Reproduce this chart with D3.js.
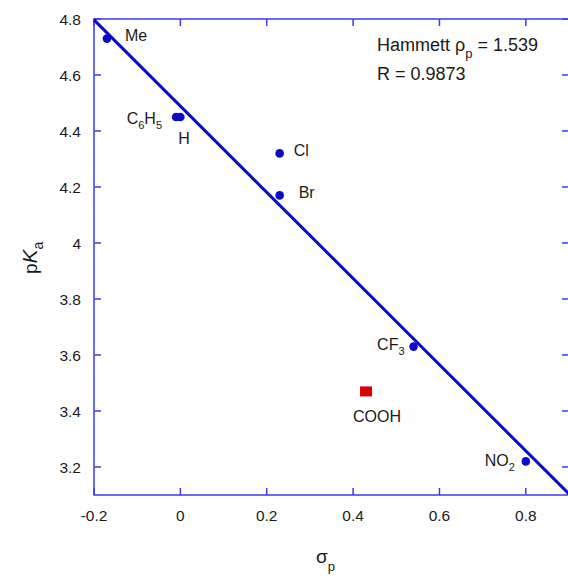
<!DOCTYPE html>
<html>
<head>
<meta charset="utf-8">
<script src="https://cdn.jsdelivr.net/npm/d3@7/dist/d3.min.js"></script>
<style>
  html, body { margin: 0; padding: 0; background: #fff; }
  svg { display: block; font-family: "Liberation Sans", Arial, sans-serif; }
</style>
</head>
<body>
<svg id="chart" width="568" height="576"></svg>
<script>
// Para-substituted benzoic acids: Hammett sigma_p vs pKa
const substituents = ["Me", "C6H5", "H", "Cl", "Br", "CF3", "NO2"];
const sigmaP       = [-0.17, -0.01, 0.00, 0.23, 0.23, 0.54, 0.80];
const pKa          = [4.73, 4.45, 4.45, 4.32, 4.17, 3.63, 3.22];

// Outlier shown separately (not in fit)
const outlierName  = ["COOH"];
const outlierSigma = [0.43];
const outlierPKa   = [3.47];

// Fit results
const rho = 1.539;
const intercept = 4.489;
const rValue = "0.9873";

const xTicks = [-0.2, 0, 0.2, 0.4, 0.6, 0.8];
const yTicks = [3.2, 3.4, 3.6, 3.8, 4, 4.2, 4.4, 4.6, 4.8];

const svg = d3.select("#chart");
const axisColor = "#3a3af0";
const markColor = "#0a0ac8";
const textColor = "#1a1a1a";

const x = d3.scaleLinear().domain([-0.2, 0.9]).range([94, 569]);
const y = d3.scaleLinear().domain([3.1, 4.8]).range([495, 19]);

// Frame
svg.append("rect")
  .attr("x", x(-0.2)).attr("y", y(4.8))
  .attr("width", x(0.9) - x(-0.2)).attr("height", y(3.1) - y(4.8))
  .attr("fill", "none").attr("stroke", axisColor).attr("stroke-width", 1.5);

// Inward ticks on all four sides
const tickLen = 7;
const tg = svg.append("g").attr("stroke", axisColor).attr("stroke-width", 1.5);
xTicks.forEach(v => {
  tg.append("line").attr("x1", x(v)).attr("x2", x(v)).attr("y1", y(3.1)).attr("y2", y(3.1) - tickLen);
  tg.append("line").attr("x1", x(v)).attr("x2", x(v)).attr("y1", y(4.8)).attr("y2", y(4.8) + tickLen);
});
yTicks.forEach(v => {
  tg.append("line").attr("x1", x(-0.2)).attr("x2", x(-0.2) + tickLen).attr("y1", y(v)).attr("y2", y(v));
  tg.append("line").attr("x1", x(0.9)).attr("x2", x(0.9) - tickLen).attr("y1", y(v)).attr("y2", y(v));
});

// Tick labels
svg.append("g").selectAll("text").data(xTicks).join("text")
  .attr("x", d => x(d)).attr("y", 520.5)
  .attr("text-anchor", "middle").attr("font-size", 15.5).attr("fill", textColor)
  .text(d => String(d));
svg.append("g").selectAll("text").data(yTicks).join("text")
  .attr("x", 81).attr("y", d => y(d)).attr("dy", "0.36em")
  .attr("text-anchor", "end").attr("font-size", 15.5).attr("fill", textColor)
  .text(d => String(d));

// Axis titles
const xt = svg.append("text").attr("x", 316).attr("y", 563).attr("fill", textColor).attr("font-size", 19);
xt.append("tspan").text("σ");
xt.append("tspan").attr("font-size", 13).attr("dy", 8).text("p");

const yt = svg.append("text").attr("transform", "translate(37,274) rotate(-90)")
  .attr("fill", textColor).attr("font-size", 19);
yt.append("tspan").text("p");
yt.append("tspan").attr("font-style", "italic").attr("font-size", 21).text("K");
yt.append("tspan").attr("font-size", 14).attr("dy", 6).text("a");

// Regression line
const fit = v => intercept - rho * v;
svg.append("line")
  .attr("x1", x(-0.2)).attr("y1", y(fit(-0.2)))
  .attr("x2", x(0.9)).attr("y2", y(fit(0.9)))
  .attr("stroke", markColor).attr("stroke-width", 3);

// Data points
const pts = substituents.map((s, i) => ({ name: s, sx: sigmaP[i], py: pKa[i] }));
svg.append("g").selectAll("circle").data(pts).join("circle")
  .attr("cx", d => x(d.sx)).attr("cy", d => y(d.py)).attr("r", 4.3)
  .attr("fill", markColor);

// Outlier
svg.append("g").selectAll("rect").data(outlierName.map((n, i) => ({ name: n, sx: outlierSigma[i], py: outlierPKa[i] })))
  .join("rect")
  .attr("x", d => x(d.sx) - 6).attr("y", d => y(d.py) - 5)
  .attr("width", 12).attr("height", 10).attr("fill", "#d80000");

// Point labels: offset from the point, with optional subscripts
const labelStyle = {
  "Me":   { dx: 18,  dy: 2,  anchor: "start", parts: [["Me", 0]] },
  "C6H5": { dx: -14, dy: 7,  anchor: "end",   parts: [["C", 0], ["6", 1], ["H", 0], ["5", 1]] },
  "H":    { dx: -2,  dy: 27, anchor: "start", parts: [["H", 0]] },
  "Cl":   { dx: 14,  dy: 3,  anchor: "start", parts: [["Cl", 0]] },
  "Br":   { dx: 19,  dy: 3,  anchor: "start", parts: [["Br", 0]] },
  "CF3":  { dx: -9,  dy: 3,  anchor: "end",   parts: [["CF", 0], ["3", 1]] },
  "NO2":  { dx: -11, dy: 5,  anchor: "end",   parts: [["NO", 0], ["2", 1]] },
  "COOH": { dx: 11,  dy: 31, anchor: "middle", parts: [["COOH", 0]] }
};
const allLabels = pts.concat([{ name: "COOH", sx: outlierSigma[0], py: outlierPKa[0] }]);
allLabels.forEach(d => {
  const st = labelStyle[d.name];
  const t = svg.append("text")
    .attr("x", x(d.sx) + st.dx).attr("y", y(d.py) + st.dy)
    .attr("text-anchor", st.anchor).attr("font-size", 16).attr("fill", textColor);
  let sub = 0;
  st.parts.forEach(([txt, isSub]) => {
    const ts = t.append("tspan").text(txt);
    if (isSub && !sub) { ts.attr("font-size", 11).attr("dy", 5); sub = 1; }
    else if (!isSub && sub) { ts.attr("dy", -5); sub = 0; }
    else if (isSub) ts.attr("font-size", 11);
  });
});

// Fit annotation
const a1 = svg.append("text").attr("x", 377).attr("y", 51).attr("font-size", 18).attr("fill", textColor);
a1.append("tspan").text("Hammett ρ");
a1.append("tspan").attr("font-size", 13).attr("dy", 7).text("p");
a1.append("tspan").attr("dy", -7).text(" = " + rho.toFixed(3));
svg.append("text").attr("x", 377).attr("y", 80).attr("font-size", 18).attr("fill", textColor)
  .text("R = " + rValue);
</script>
</body>
</html>
